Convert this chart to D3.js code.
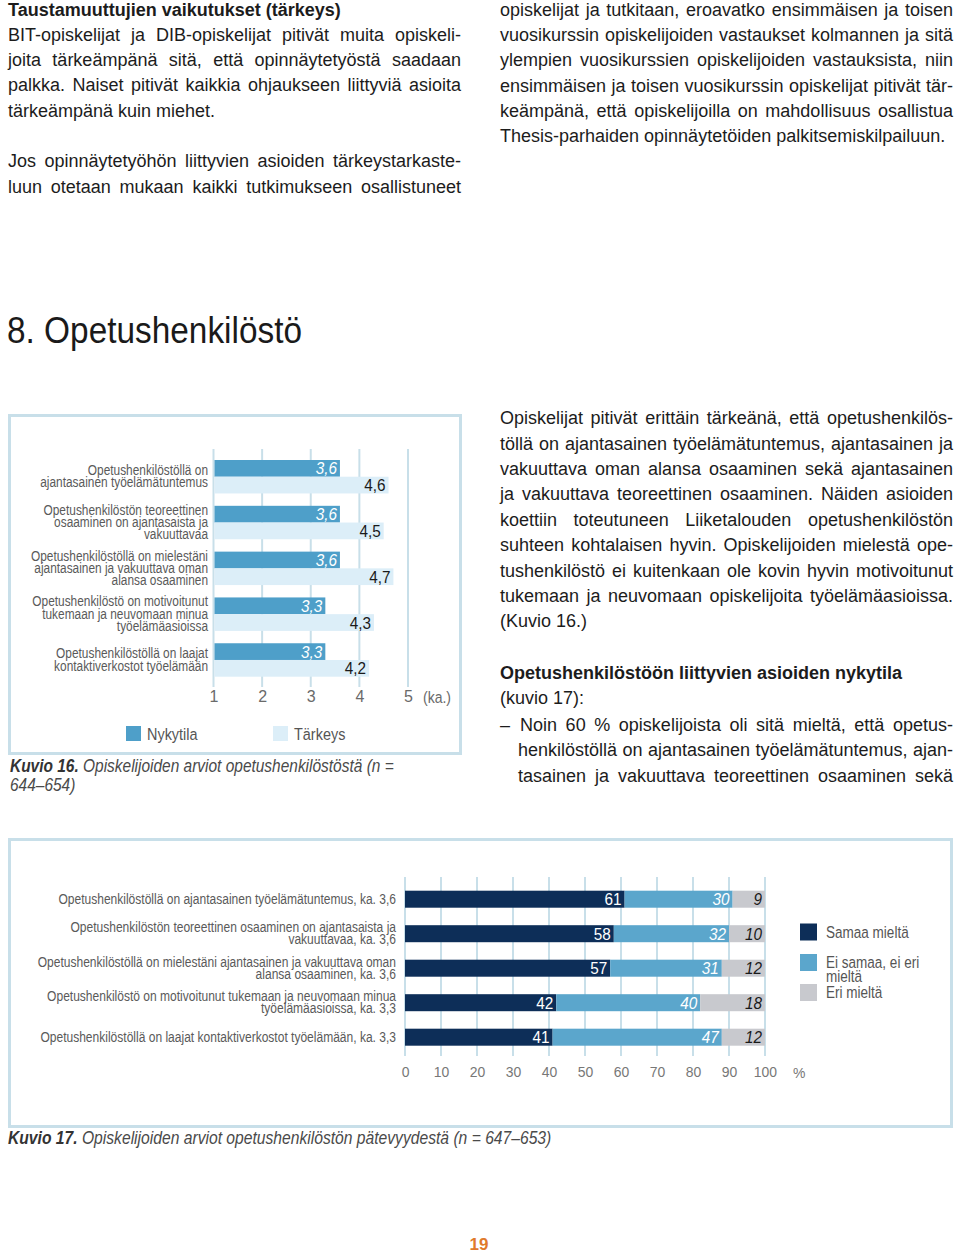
<!DOCTYPE html>
<html><head><meta charset="utf-8">
<script src="https://cdn.jsdelivr.net/npm/d3@7"></script>
<style>
html,body{margin:0;padding:0;background:#fff;}
#page{position:relative;width:960px;height:1253px;overflow:hidden;}
.ln{position:absolute;white-space:nowrap;font-family:"Liberation Sans",Arial,sans-serif;font-size:18px;line-height:25px;height:25px;color:#1c1c1c;}
.j{text-align:justify;text-align-last:justify;}
.b{font-weight:bold;}
#fig{position:absolute;left:0;top:0;}
</style></head>
<body><div id="page"><svg id="fig" width="960" height="1253"></svg></div>
<script>
// ---------- DATA ----------
const cats16 = [
  ["Opetushenkilöstöllä on","ajantasainen työelämätuntemus"],
  ["Opetushenkilöstön teoreettinen","osaaminen on ajantasaista ja","vakuuttavaa"],
  ["Opetushenkilöstöllä on mielestäni","ajantasainen ja vakuuttava oman","alansa osaaminen"],
  ["Opetushenkilöstö on motivoitunut","tukemaan ja neuvomaan minua","työelämäasioissa"],
  ["Opetushenkilöstöllä on laajat","kontaktiverkostot työelämään"]
];
const nykytila = [3.6, 3.6, 3.6, 3.3, 3.3];
const tarkeys  = [4.6, 4.5, 4.7, 4.3, 4.2];
const ticks16 = [1, 2, 3, 4, 5];
const series16 = ["Nykytila", "Tärkeys"];

const cats17 = [
  ["Opetushenkilöstöllä on ajantasainen työelämätuntemus, ka. 3,6"],
  ["Opetushenkilöstön teoreettinen osaaminen on ajantasaista ja","vakuuttavaa, ka. 3,6"],
  ["Opetushenkilöstöllä on mielestäni ajantasainen ja vakuuttava oman","alansa osaaminen, ka. 3,6"],
  ["Opetushenkilöstö on motivoitunut tukemaan ja neuvomaan minua","työelämäasioissa, ka. 3,3"],
  ["Opetushenkilöstöllä on laajat kontaktiverkostot työelämään, ka. 3,3"]
];
const samaa   = [61, 58, 57, 42, 41];
const eiSamaa = [30, 32, 31, 40, 47];
const eri     = [9, 10, 12, 18, 12];
const ticks17 = [0,10,20,30,40,50,60,70,80,90,100];
const series17 = [["Samaa mieltä"],["Ei samaa, ei eri","mieltä"],["Eri mieltä"]];

// ---------- BODY TEXT ----------
const textLines = [
  [8, 10, 453, "Taustamuuttujien vaikutukset (tärkeys)", false, true],
  [8, 35, 453, "BIT-opiskelijat ja DIB-opiskelijat pitivät muita opiskeli-", true],
  [8, 60, 453, "joita tärkeämpänä sitä, että opinnäytetyöstä saadaan", true],
  [8, 85, 453, "palkka. Naiset pitivät kaikkia ohjaukseen liittyviä asioita", true],
  [8, 111, 453, "tärkeämpänä kuin miehet.", false],
  [8, 161, 453, "Jos opinnäytetyöhön liittyvien asioiden tärkeystarkaste-", true],
  [8, 187, 453, "luun otetaan mukaan kaikki tutkimukseen osallistuneet", true],
  [500, 10, 453, "opiskelijat ja tutkitaan, eroavatko ensimmäisen ja toisen", true],
  [500, 35, 453, "vuosikurssin opiskelijoiden vastaukset kolmannen ja sitä", true],
  [500, 60, 453, "ylempien vuosikurssien opiskelijoiden vastauksista, niin", true],
  [500, 86, 453, "ensimmäisen ja toisen vuosikurssin opiskelijat pitivät tär-", true],
  [500, 111, 453, "keämpänä, että opiskelijoilla on mahdollisuus osallistua", true],
  [500, 136, 453, "Thesis-parhaiden opinnäytetöiden palkitsemiskilpailuun.", false],
  [500, 418, 453, "Opiskelijat pitivät erittäin tärkeänä, että opetushenkilös-", true],
  [500, 444, 453, "töllä on ajantasainen työelämätuntemus, ajantasainen ja", true],
  [500, 469, 453, "vakuuttava oman alansa osaaminen sekä ajantasainen", true],
  [500, 494, 453, "ja vakuuttava teoreettinen osaaminen. Näiden asioiden", true],
  [500, 520, 453, "koettiin toteutuneen Liiketalouden opetushenkilöstön", true],
  [500, 545, 453, "suhteen kohtalaisen hyvin. Opiskelijoiden mielestä ope-", true],
  [500, 571, 453, "tushenkilöstö ei kuitenkaan ole kovin hyvin motivoitunut", true],
  [500, 596, 453, "tukemaan ja neuvomaan opiskelijoita työelämäasioissa.", true],
  [500, 621, 453, "(Kuvio 16.)", false],
  [500, 673, 453, "Opetushenkilöstöön liittyvien asioiden nykytila", false, true],
  [500, 698, 453, "(kuvio 17):", false],
  [500, 725, 20, "–", false],
  [520, 725, 433, "Noin 60 % opiskelijoista oli sitä mieltä, että opetus-", true],
  [518, 750, 435, "henkilöstöllä on ajantasainen työelämätuntemus, ajan-", true],
  [518, 776, 435, "tasainen ja vakuuttava teoreettinen osaaminen sekä", true]
];
const page = d3.select("#page");
page.selectAll("div.ln").data(textLines).join("div")
  .attr("class", d => "ln" + (d[4] ? " j" : "") + (d[5] ? " b" : ""))
  .style("left", d => d[0] + "px")
  .style("top", d => (d[1] - 12.5) + "px")
  .style("width", d => d[2] + "px")
  .text(d => d[3])
  .each(function(d) {
    const probe = document.createElement("span");
    probe.textContent = d[3];
    probe.style.cssText = "position:absolute;visibility:hidden;white-space:nowrap;font:inherit;";
    this.appendChild(probe);
    const w = probe.getBoundingClientRect().width;
    this.removeChild(probe);
    if (w > d[2] - 2) {
      this.style.letterSpacing = ((d[2] - 2 - w) / d[3].length) + "px";
    }
  });

const svg = d3.select("#fig");
const FONT = '"Liberation Sans",Arial,sans-serif';

// condensed text helper (narrow grotesk look)
function ntext(parent, x, y, str, o = {}) {
  const t = parent.append("text")
    .attr("transform", `translate(${x},${y}) scale(${o.sx || 0.82},1)`)
    .attr("font-family", FONT).attr("font-size", o.size || 14.5)
    .attr("fill", o.fill || "#5a5a5a")
    .attr("text-anchor", o.anchor || "start");
  if (o.italic) t.attr("font-style", "italic");
  if (o.bold) t.attr("font-weight", "bold");
  if (str !== null) t.text(str);
  return t;
}

// Heading
svg.append("text").attr("x", 7).attr("y", 343)
  .attr("font-family", FONT).attr("font-size", 36)
  .attr("fill", "#1a1a1a").attr("textLength", 295).attr("lengthAdjust", "spacingAndGlyphs")
  .text("8. Opetushenkilöstö");

// ---------- FIGURE 16 ----------
const boxC = "#c8dfe9";
svg.append("rect").attr("x", 9.5).attr("y", 415.5).attr("width", 451).attr("height", 338)
  .attr("fill", "none").attr("stroke", boxC).attr("stroke-width", 3);

const x16 = d3.scaleLinear().domain([1, 5]).range([213.5, 408]);
const y16 = d3.scaleBand().domain(d3.range(cats16.length)).range([460, 676.7]).paddingInner(0.27).paddingOuter(0);
const ys16 = d3.scaleBand().domain(series16).range([0, y16.bandwidth()]);

const g16 = svg.append("g");
g16.selectAll("line.grid").data(ticks16).join("line")
  .attr("x1", d => x16(d)).attr("x2", d => x16(d))
  .attr("y1", 449).attr("y2", 687)
  .attr("stroke", boxC).attr("stroke-width", 2);

const rows16 = cats16.map((c, i) => ({i, c, vals: [nykytila[i], tarkeys[i]]}));
const colors16 = {"Nykytila": "#4e9fc9", "Tärkeys": "#dceef8"};
rows16.forEach(r => {
  series16.forEach((s, k) => {
    const v = r.vals[k];
    const y = y16(r.i) + ys16(s);
    g16.append("rect").attr("x", x16(1) + 1).attr("y", y)
      .attr("width", x16(v) - x16(1) - 1).attr("height", ys16.bandwidth())
      .attr("fill", colors16[s]);
    ntext(g16, x16(v) - 3, y + ys16.bandwidth() / 2 + 6, String(v).replace(".", ","),
      {size: 17, sx: 0.9, anchor: "end", italic: k === 0, fill: k === 0 ? "#ffffff" : "#1a1a1a"});
  });
  const cy = y16(r.i) + y16.bandwidth() / 2;
  const n = r.c.length;
  r.c.forEach((line, j) => {
    ntext(g16, 208, cy + (j - (n - 1) / 2) * 12.2 + 4.5, line, {size: 14.5, anchor: "end"});
  });
});
// axis tick labels
const ax16 = svg.append("g").attr("transform", "translate(0,691)")
  .call(d3.axisBottom(x16).tickValues(ticks16).tickSize(0).tickPadding(0).tickFormat(d3.format("d")));
ax16.select(".domain").remove();
ax16.selectAll("text").attr("font-family", FONT).attr("font-size", 16).attr("fill", "#6a6a6a").attr("dy", "0.71em");
ntext(svg, 423, 703, "(ka.)", {size: 16.5, sx: 0.85, fill: "#6a6a6a"});
// legend
const leg16 = [[126, "Nykytila"], [273, "Tärkeys"]];
leg16.forEach(([lx, s]) => {
  svg.append("rect").attr("x", lx).attr("y", 726).attr("width", 15).attr("height", 15).attr("fill", colors16[s]);
  ntext(svg, lx + 21, 740, s, {size: 17, sx: 0.85, fill: "#555"});
});
// caption
const cap16 = ntext(svg, 10, 772, null, {size: 18, sx: 0.86, italic: true, fill: "#4a4a4a"});
cap16.append("tspan").attr("font-weight", "bold").attr("fill", "#333").text("Kuvio 16.");
cap16.append("tspan").text(" Opiskelijoiden arviot opetushenkilöstöstä (n =");
ntext(svg, 10, 791, "644–654)", {size: 18, sx: 0.86, italic: true, fill: "#4a4a4a"});

// ---------- FIGURE 17 ----------
svg.append("rect").attr("x", 9.5).attr("y", 839.5).attr("width", 942).attr("height", 287)
  .attr("fill", "none").attr("stroke", boxC).attr("stroke-width", 3);

const x17 = d3.scaleLinear().domain([0, 100]).range([405, 765]);
const y17 = d3.scaleBand().domain(d3.range(cats17.length)).range([890.7, 1045.7]).paddingInner(0.507).paddingOuter(0);
const g17 = svg.append("g");
g17.selectAll("line.grid").data(ticks17).join("line")
  .attr("x1", d => x17(d)).attr("x2", d => x17(d))
  .attr("y1", 877).attr("y2", 1056)
  .attr("stroke", boxC).attr("stroke-width", 2);

const colors17 = ["#0d2e58", "#5ba6cc", "#c8c9ce"];
const labelCol17 = ["#ffffff", "#ffffff", "#1a1a1a"];
const stackData = cats17.map((c, i) => ({i, c, vals: [samaa[i], eiSamaa[i], eri[i]]}));
stackData.forEach(r => {
  let acc = 0;
  r.vals.forEach((v, k) => {
    const x0 = x17(acc), x1 = x17(acc + v);
    g17.append("rect").attr("x", x0).attr("y", y17(r.i)).attr("width", x1 - x0).attr("height", y17.bandwidth())
      .attr("fill", colors17[k]);
    ntext(g17, x1 - 3, y17(r.i) + y17.bandwidth() / 2 + 6, v,
      {size: 17, sx: 0.9, anchor: "end", italic: k !== 0, fill: labelCol17[k]});
    acc += v;
  });
  const cy = y17(r.i) + y17.bandwidth() / 2;
  const n = r.c.length;
  r.c.forEach((line, j) => {
    ntext(g17, 396, cy + (j - (n - 1) / 2) * 12.2 + 4.5, line, {size: 14.5, sx: 0.83, anchor: "end"});
  });
});
const ax17 = svg.append("g").attr("transform", "translate(0,1066)")
  .call(d3.axisBottom(x17).tickValues(ticks17).tickSize(0).tickPadding(0).tickFormat(d3.format("d")));
ax17.select(".domain").remove();
ax17.selectAll(".tick text").attr("font-family", FONT).attr("font-size", 15.5).attr("fill", "#777")
  .attr("dy", "0.71em").attr("transform", "scale(0.9,1)");
ntext(svg, 793, 1078, "%", {size: 15.5, sx: 0.9, fill: "#777"});
// legend 17
const legY = [923.5, 954, 984];
series17.forEach((s, k) => {
  svg.append("rect").attr("x", 800).attr("y", legY[k]).attr("width", 17).attr("height", 17).attr("fill", colors17[k]);
  s.forEach((line, j) => {
    ntext(svg, 826, legY[k] + 14 + j * 13.5, line, {size: 16.5, sx: 0.82, fill: "#555"});
  });
});
// caption 17
const cap17 = ntext(svg, 8, 1144, null, {size: 18, sx: 0.87, italic: true, fill: "#4a4a4a"});
cap17.append("tspan").attr("font-weight", "bold").attr("fill", "#333").text("Kuvio 17.");
cap17.append("tspan").text(" Opiskelijoiden arviot opetushenkilöstön pätevyydestä (n = 647–653)");

// page number
svg.append("text").attr("x", 479).attr("y", 1250).attr("text-anchor", "middle")
  .attr("font-family", FONT).attr("font-size", 17).attr("font-weight", "bold")
  .attr("fill", "#e07a2c").text("19");
</script></body></html>
